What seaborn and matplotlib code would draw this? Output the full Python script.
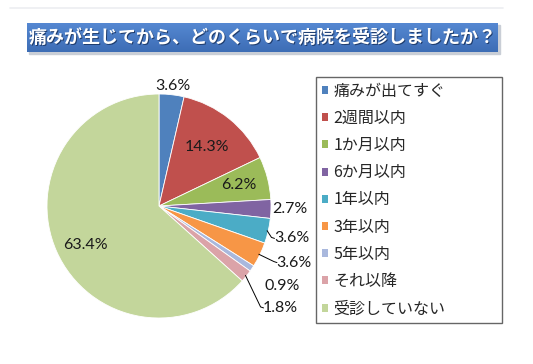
import matplotlib
matplotlib.use("Agg")
import matplotlib.pyplot as plt
import numpy as np
import seaborn as sns

categories = ["痛みが出てすぐ", "2週間以内", "1か月以内", "6か月以内", "1年以内",
              "3年以内", "5年以内", "それ以降", "受診していない"]
shares = [3.6, 14.3, 6.2, 2.7, 3.6, 3.6, 0.9, 1.8, 63.4]
pct_labels = ["3.6%", "14.3%", "6.2%", "2.7%", "3.6%", "3.6%", "0.9%", "1.8%", "63.4%"]
title = "痛みが生じてから、どのくらいで病院を受診しましたか？"

colors = ["#4f81bd", "#c0504d", "#9bbb59", "#8064a2", "#4bacc6",
          "#f79646", "#a9b8dd", "#dba3a8", "#c3d69b"]

sns.set_theme(style="white")
plt.rcParams["font.family"] = ["Noto Sans CJK JP", "DejaVu Sans"]

W, H = 533, 364
fig = plt.figure(figsize=(W / 100, H / 100), dpi=100)
fig.patch.set_facecolor("white")

# main canvas in pixel units (y up)
ax = fig.add_axes([0, 0, 1, 1])
ax.set_aspect("equal")
ax.axis("off")

cx, cy, r = 159, H - 206, 112
wedges, _ = ax.pie(shares, colors=colors, startangle=90, counterclock=False,
                   center=(cx, cy), radius=r,
                   wedgeprops=dict(edgecolor="white", linewidth=0.6))

# label placement: (radius factor, dx, dy) per slice
place = [(1.08, 0, 0), (0.68, 0, 0), (0.74, 0, 0), (1.17, 0, 0),
         (1.14, 8, -4), (1.14, 20, -1), (1.14, 17, -9), (1.14, 22, -22), (0.72, 0, -6)]
leader = [False, False, False, False, True, True, False, True, False]
font_pct = ["Lato", "DejaVu Sans"]
for w, lab, (f, dx, dy), ld in zip(wedges, pct_labels, place, leader):
    ang = np.deg2rad((w.theta1 + w.theta2) / 2)
    x = cx + f * r * np.cos(ang) + dx
    y = cy + f * r * np.sin(ang) + dy
    if ld:
        ex = cx + r * 0.99 * np.cos(ang)
        ey = cy + r * 0.99 * np.sin(ang)
        tx = x - 17
        ax.plot([ex, tx - 3, tx], [ey, y + 1, y], color="black", lw=0.7)
    ax.text(x, y, lab, ha="center", va="center", fontsize=11.5, family=font_pct, color="#1a1a1a")

# faint top rule
ax.plot([10, 503], [H - 8, H - 8], color="#eceef1", lw=1.2)

# title banner with gradient
bx0, bx1, by0, by1 = 27, 498, H - 52, H - 23
ax.add_patch(plt.Rectangle((bx0 + 2, by0 - 2), bx1 - bx0, by1 - by0, color="#c9ced6", zorder=2))
grad = np.linspace(0, 1, 50).reshape(-1, 1)
cmap = matplotlib.colors.LinearSegmentedColormap.from_list("b", ["#3d6db5", "#5588d2"])
ax.imshow(grad, extent=(bx0, bx1, by0, by1), cmap=cmap, aspect="auto", origin="lower", zorder=3)
ax.set_xlim(0, W)
ax.set_ylim(0, H)
ax.text((bx0 + bx1) / 2 + 1, (by0 + by1) / 2 - 1, title, ha="center", va="center",
        fontsize=13, fontweight="bold", color="#1f3d6e", zorder=4)
ax.text((bx0 + bx1) / 2, (by0 + by1) / 2, title, ha="center", va="center",
        fontsize=13, fontweight="bold", color="white", zorder=5)

# legend
leg = ax.legend(wedges, categories, loc="upper left",
                bbox_to_anchor=(316 / W, 1 - 77 / H, 186 / W, 0.0),
                bbox_transform=fig.transFigure, mode="expand",
                fontsize=11.5, handlelength=0.4, handleheight=0.4, handletextpad=0.35,
                labelspacing=0.64, borderpad=0.35, borderaxespad=0, fancybox=False)
leg.get_frame().set_edgecolor("#404040")
leg.get_frame().set_linewidth(1.0)
for h in leg.legend_handles:
    h.set_edgecolor("none")

fig.savefig("out.png", dpi=100, facecolor="white")
